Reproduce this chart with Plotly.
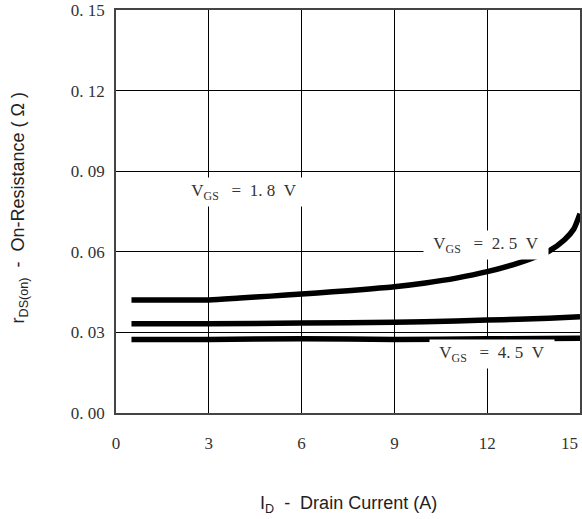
import plotly.graph_objects as go

# Data
id_18 = [0.5, 3, 4, 5, 6, 7, 8, 9, 10, 11, 12, 13, 13.5, 14, 14.5, 14.8, 15]
r_18 = [0.0421, 0.0421, 0.0428, 0.0435, 0.0443, 0.0451, 0.0460, 0.0470, 0.0484, 0.0502, 0.0526, 0.0558, 0.0578, 0.0603, 0.0645, 0.0685, 0.0742]

id_25 = [0.5, 3, 6, 9, 11, 12, 13, 14, 15]
r_25 = [0.0332, 0.0332, 0.0335, 0.0338, 0.0342, 0.0346, 0.0349, 0.0353, 0.0358]

id_45 = [0.5, 3, 6, 9, 12, 15]
r_45 = [0.0274, 0.0274, 0.0276, 0.0274, 0.0276, 0.0278]

x_ticks = [0, 3, 6, 9, 12, 15]
x_tick_labels = ["0", "3", "6", "9", "12", "15\u00a0\u00a0\u00a0\u00a0\u00a0"]
y_ticks = [0.00, 0.03, 0.06, 0.09, 0.12, 0.15]
y_tick_labels = ["0.\u00a000", "0.\u00a003", "0.\u00a006", "0.\u00a009", "0.\u00a012", "0.\u00a015"]

labels = [
    ("V<sub>GS</sub>\u00a0\u00a0\u00a0=\u00a0\u00a01.\u00a08\u00a0\u00a0V", 4.15, 0.0822),
    ("V<sub>GS</sub>\u00a0\u00a0\u00a0=\u00a0\u00a02.\u00a05\u00a0\u00a0V", 11.95, 0.0627),
    ("V<sub>GS</sub>\u00a0\u00a0\u00a0=\u00a0\u00a04.\u00a05\u00a0\u00a0V", 12.15, 0.0218),
]

x_title = "I<sub>D</sub>\u00a0\u00a0-\u00a0\u00a0Drain Current (A)"
y_title = "r<sub>DS(on)</sub>\u00a0\u00a0-\u00a0\u00a0On-Resistance ( \u03a9 )"

fig = go.Figure()
for xs, ys in [(id_18, r_18), (id_25, r_25), (id_45, r_45)]:
    fig.add_trace(go.Scatter(x=xs, y=ys, mode="lines",
                             line=dict(color="black", width=5.5, shape="spline", smoothing=0.6),
                             showlegend=False, hoverinfo="skip"))

serif = "Liberation Serif"
for txt, lx, ly in labels:
    fig.add_annotation(x=lx, y=ly, xref="x", yref="y", text=txt, showarrow=False,
                       font=dict(family=serif, size=17, color="#333"),
                       bgcolor="white", width=124, height=28, borderpad=0)

title_font = dict(family="Liberation Sans", size=18, color="#222")
fig.add_annotation(x=0.5, y=-0.228, xref="paper", yref="paper", text=x_title,
                   showarrow=False, font=title_font, xanchor="center", yanchor="middle")
fig.add_annotation(x=-0.207, y=0.51, xref="paper", yref="paper", text=y_title,
                   showarrow=False, font=title_font, textangle=-90,
                   xanchor="center", yanchor="middle")

axis_common = dict(showgrid=True, gridcolor="black", gridwidth=1, zeroline=False,
                   showline=True, linecolor="#444", linewidth=1.5, mirror=True,
                   ticks="outside", tickcolor="rgba(0,0,0,0)", automargin=False,
                   ticklabeloverflow="allow",
                   tickfont=dict(family=serif, size=17, color="#333"))

fig.update_xaxes(range=[0, 15], tickvals=x_ticks, ticktext=x_tick_labels, ticklen=14,
                 **axis_common)
fig.update_yaxes(range=[0, 0.15], tickvals=y_ticks, ticktext=y_tick_labels, ticklen=6,
                 **axis_common)

fig.update_layout(width=582, height=519, margin=dict(l=116, r=2, t=10, b=106),
                  plot_bgcolor="white", paper_bgcolor="white")

# remove the page's default body margin so the figure sits at the window's corner
fig.write_html("out.html", config={"displayModeBar": False},
               post_script="document.body.style.margin='0';document.body.style.overflow='hidden';")
